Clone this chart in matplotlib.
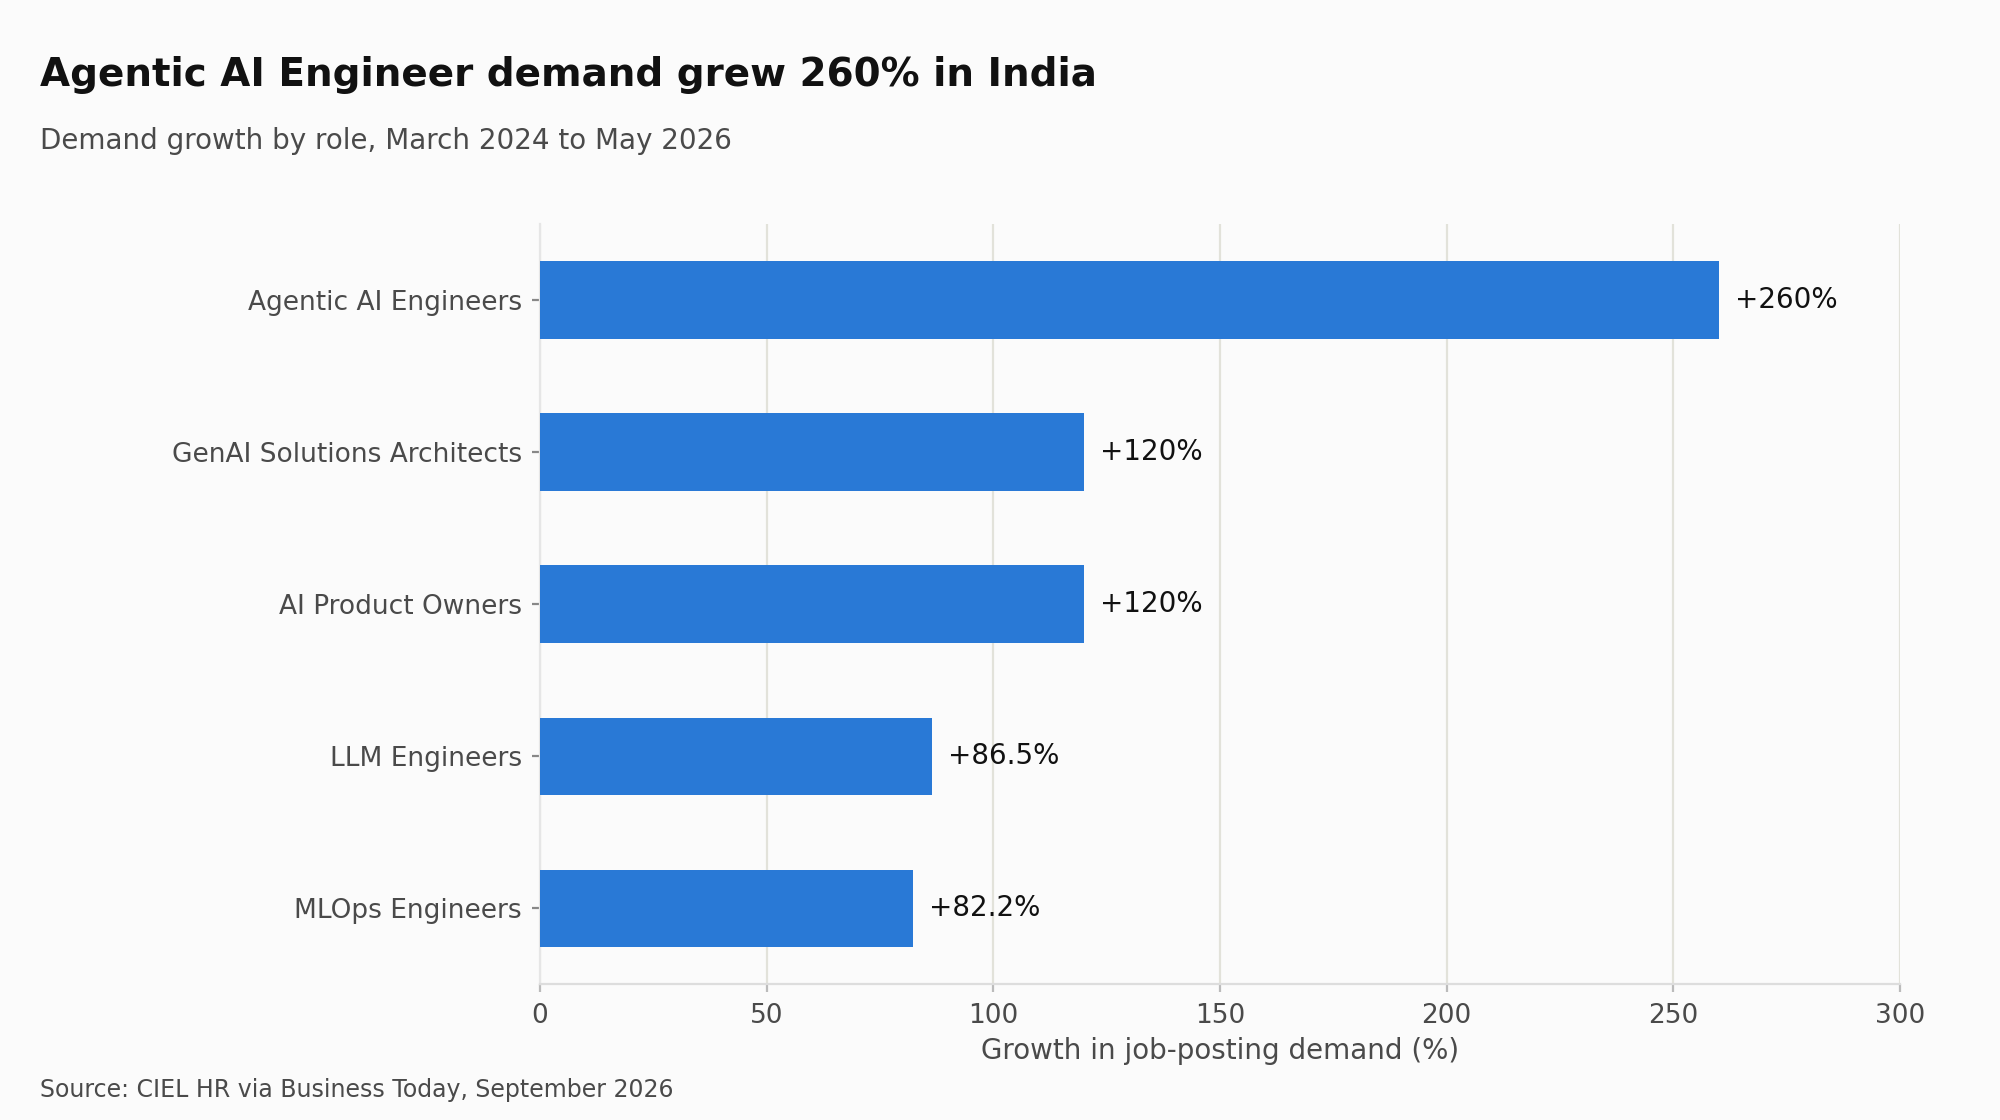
import matplotlib
matplotlib.use("Agg")
import matplotlib.pyplot as plt

roles = ["Agentic AI Engineers", "GenAI Solutions Architects", "AI Product Owners", "LLM Engineers", "MLOps Engineers"]
growth = [260, 120, 120, 86.5, 82.2]
labels = ["+260%", "+120%", "+120%", "+86.5%", "+82.2%"]

bg = "#fbfbfb"
fig = plt.figure(figsize=(10, 5.6), dpi=200, facecolor=bg)
ax = fig.add_axes([0.270, 0.121, 0.680, 0.679], facecolor=bg)
y = list(range(len(roles)))
ax.barh(y, growth, height=0.51, color="#2979d6", zorder=3)
ax.invert_yaxis()
ax.set_yticks(y)
ax.set_yticklabels(roles, fontsize=9.5, color="#4a4a4a")
ax.set_xlim(0, 300)
ax.set_ylim(4.5, -0.5)
ax.set_xticks(range(0, 301, 50))
ax.tick_params(axis="x", labelsize=9.5, colors="#4a4a4a", length=3, color="#bbbbbb")
ax.tick_params(axis="y", length=3, color="#888888")
for lab in ax.get_xticklabels():
    lab.set_color("#4a4a4a")
ax.grid(axis="x", color="#e2e2da", linewidth=0.8, zorder=0)
for s in ["top", "right"]:
    ax.spines[s].set_visible(False)
ax.spines["left"].set_color("#e6e6e6")
ax.spines["bottom"].set_color("#dddddd")
for yi, v, t in zip(y, growth, labels):
    ax.text(v + 3.5, yi, t, va="center", ha="left", fontsize=10, color="#111111")
ax.set_xlabel("Growth in job-posting demand (%)", fontsize=10, color="#4a4a4a", labelpad=3)

fig.text(0.020, 0.933, "Agentic AI Engineer demand grew 260% in India", fontsize=14, fontweight="bold", color="#111111", va="center")
fig.text(0.020, 0.874, "Demand growth by role, March 2024 to May 2026", fontsize=10, color="#4a4a4a", va="center")
fig.text(0.020, 0.027, "Source: CIEL HR via Business Today, September 2026", fontsize=8.5, color="#4a4a4a", va="center")
fig.savefig("out.png", dpi=200, facecolor=bg)
